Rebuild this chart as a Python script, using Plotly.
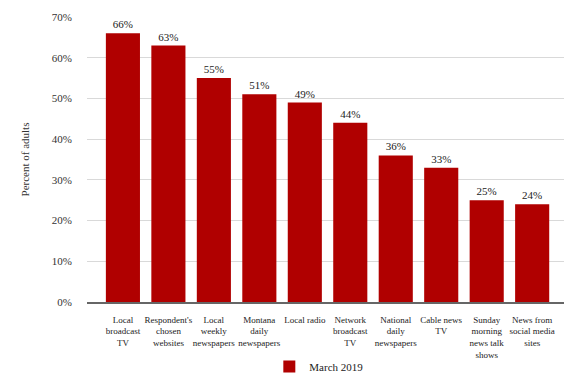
import plotly.graph_objects as go

categories = [
    "Local<br>broadcast<br>TV",
    "Respondent's<br>chosen<br>websites",
    "Local<br>weekly<br>newspapers",
    "Montana<br>daily<br>newspapers",
    "Local radio",
    "Network<br>broadcast<br>TV",
    "National<br>daily<br>newspapers",
    "Cable news<br>TV",
    "Sunday<br>morning<br>news talk<br>shows",
    "News from<br>social media<br>sites",
]
values = [66, 63, 55, 51, 49, 44, 36, 33, 25, 24]
series_name = "March 2019"
y_ticks = [0, 10, 20, 30, 40, 50, 60, 70]
y_ticktext = [f"{v}%" for v in y_ticks]

FONT = "Liberation Serif, Times New Roman, serif"
RED = "#b00000"

fig = go.Figure()
fig.add_trace(go.Bar(
    x=list(range(len(categories))),
    y=values,
    name=series_name,
    marker=dict(color=RED, line=dict(width=0)),
    text=[f"{v}%" for v in values],
    textposition="outside",
    textfont=dict(family=FONT, size=11, color="#222222"),
    cliponaxis=False,
    showlegend=True,
))

fig.update_layout(
    width=570, height=381,
    margin=dict(l=87, r=6, t=17, b=79),
    paper_bgcolor="white", plot_bgcolor="white",
    font=dict(family=FONT, size=11, color="#333333"),
    bargap=0.25,
    legend=dict(
        orientation="h", x=0.486, xanchor="center",
        yref="container", y=-0.045, yanchor="bottom",
        font=dict(family=FONT, size=11, color="#222222"),
    ),
    xaxis=dict(
        range=[-0.79, 9.70],
        tickmode="array",
        tickvals=list(range(len(categories))),
        ticktext=categories,
        tickfont=dict(family=FONT, size=9, color="#222222"),
        ticks="outside", ticklen=8, tickcolor="rgba(0,0,0,0)",
        showgrid=False,
        showline=True, linecolor="#666666", linewidth=1.5,
        tickangle=0,
        automargin=False,
        fixedrange=True,
    ),
    yaxis=dict(
        range=[0, 70],
        tickmode="array",
        tickvals=y_ticks,
        ticktext=y_ticktext,
        tickfont=dict(family=FONT, size=11, color="#333333"),
        ticks="outside", ticklen=12, tickcolor="rgba(0,0,0,0)",
        showgrid=True, gridcolor="#d9d9d9", gridwidth=1,
        zeroline=False,
        title=dict(text="Percent of adults", font=dict(family=FONT, size=11, color="#333333"), standoff=19),
        automargin=False,
        fixedrange=True,
    ),
)

fig.write_html(
    "out.html",
    config={"displayModeBar": False},
    post_script="document.body.style.margin='0';document.body.style.overflow='hidden';",
)
